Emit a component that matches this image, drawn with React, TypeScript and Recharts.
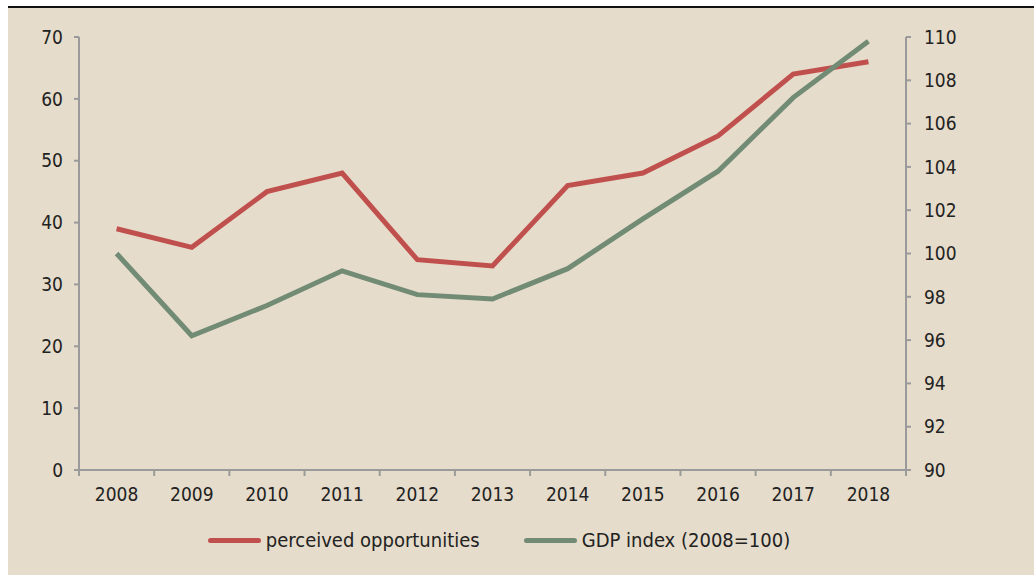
import React from "react";
import { LineChart, Line, XAxis, YAxis, Legend } from "recharts";

const years = ["2008", "2009", "2010", "2011", "2012", "2013", "2014", "2015", "2016", "2017", "2018"];
const perceivedOpportunities = [39, 36, 45, 48, 34, 33, 46, 48, 54, 64, 66];
const gdpIndex = [100, 96.2, 97.6, 99.2, 98.1, 97.9, 99.3, 101.6, 103.8, 107.2, 109.8];
const leftTicks = [0, 10, 20, 30, 40, 50, 60, 70];
const rightTicks = [90, 92, 94, 96, 98, 100, 102, 104, 106, 108, 110];

const data = years.map((y, i) => ({ year: y, opp: perceivedOpportunities[i], gdp: gdpIndex[i] }));

const RED = "#c0504d";
const GREEN = "#718b74";
const AXIS = "#9a9a9a";
const TEXT = "#222222";
const FONT = "'DejaVu Sans Condensed', 'DejaVu Sans', sans-serif";

const XTick = (props: any) => {
  const { x, y, payload, index, visibleTicksCount } = props;
  const off = payload && payload.offset ? payload.offset : 0;
  const last = index === (visibleTicksCount ?? years.length) - 1;
  return (
    <g>
      <line x1={x - off} x2={x - off} y1={y - 8} y2={y - 2} stroke={AXIS} strokeWidth={2} />
      {last && <line x1={x + off} x2={x + off} y1={y - 8} y2={y - 2} stroke={AXIS} strokeWidth={2} />}
      <text x={x} y={y + 23} textAnchor="middle" fill={TEXT} fontSize={19} fontFamily={FONT}>
        {payload.value}
      </text>
    </g>
  );
};

const LegendContent = () => (
  <div style={{ display: "flex", justifyContent: "center", alignItems: "center", fontFamily: FONT, fontSize: 20, color: TEXT }}>
    <div style={{ display: "flex", alignItems: "center", marginRight: 44 }}>
      <span style={{ display: "inline-block", width: 53, height: 5, background: RED, borderRadius: 3, marginRight: 5 }} />
      <span>perceived opportunities</span>
    </div>
    <div style={{ display: "flex", alignItems: "center" }}>
      <span style={{ display: "inline-block", width: 53, height: 5, background: GREEN, borderRadius: 3, marginRight: 5 }} />
      <span>GDP index (2008=100)</span>
    </div>
  </div>
);

export default function App() {
  return (
    <div style={{ position: "absolute", left: 8, top: 6, width: 1026, height: 567, background: "#e6dccb", borderTop: "2px solid #111", overflow: "hidden" }}>
      <LineChart width={1026} height={567} data={data} margin={{ top: 29, right: 68, left: 0, bottom: 75 }}>
        <XAxis
          dataKey="year"
          scale="band"
          height={30}
          stroke={AXIS}
          strokeWidth={2}
          tickLine={false}
          tick={<XTick />}
          interval={0}
        />
        <YAxis
          yAxisId="left"
          domain={[0, 70]}
          ticks={leftTicks}
          width={71}
          stroke={AXIS}
          strokeWidth={2}
          tickSize={5}
          tickMargin={11}
          tick={{ fill: TEXT, fontSize: 19, fontFamily: FONT }}
        />
        <YAxis
          yAxisId="right"
          orientation="right"
          domain={[90, 110]}
          ticks={rightTicks}
          width={60}
          stroke={AXIS}
          strokeWidth={2}
          tickSize={5}
          tickMargin={13}
          tick={{ fill: TEXT, fontSize: 19, fontFamily: FONT }}
        />
        <Legend
          layout="horizontal"
          verticalAlign="middle"
          align="center"
          content={<LegendContent />}
          wrapperStyle={{ top: 520, left: -22, width: 1026 }}
        />
        <Line yAxisId="left" dataKey="opp" stroke={RED} strokeWidth={5} dot={false} isAnimationActive={false} />
        <Line yAxisId="right" dataKey="gdp" stroke={GREEN} strokeWidth={5} dot={false} isAnimationActive={false} />
      </LineChart>
    </div>
  );
}
